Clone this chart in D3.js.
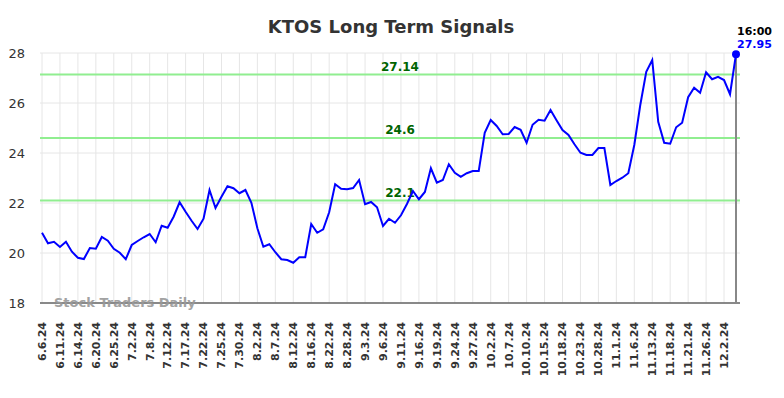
<!DOCTYPE html>
<html>
<head>
<meta charset="utf-8">
<script src="https://cdn.jsdelivr.net/npm/d3@7"></script>
<style>
  body { margin: 0; background: #fff; }
  svg { font-family: "DejaVu Sans", sans-serif; }
</style>
</head>
<body>
<div id="chart"></div>
<script>
// closing prices, one per trading day
var prices = [
  20.81, 20.39, 20.45, 20.24, 20.45, 20.05, 19.81, 19.76, 20.20, 20.17,
  20.64, 20.49, 20.17, 20.01, 19.75, 20.32, 20.48, 20.63, 20.76, 20.43,
  21.09, 21.01, 21.45, 22.03, 21.65, 21.29, 20.96, 21.37, 22.52, 21.80,
  22.25, 22.67, 22.59, 22.39, 22.52, 22.01, 20.99, 20.25, 20.35, 20.03,
  19.75, 19.72, 19.61, 19.83, 19.83, 21.16, 20.81, 20.95, 21.63, 22.75,
  22.57, 22.55, 22.60, 22.92, 21.95, 22.04, 21.83, 21.08, 21.37, 21.21,
  21.51, 21.96, 22.48, 22.15, 22.44, 23.39, 22.81, 22.92, 23.55, 23.21,
  23.05, 23.19, 23.28, 23.28, 24.81, 25.32, 25.08, 24.75, 24.76, 25.04,
  24.93, 24.41, 25.13, 25.33, 25.29, 25.72, 25.31, 24.92, 24.72, 24.35,
  24.01, 23.92, 23.92, 24.20, 24.20, 22.72, 22.88, 23.01, 23.19, 24.32,
  25.92, 27.25, 27.72, 25.25, 24.41, 24.37, 25.03, 25.21, 26.23, 26.61,
  26.41, 27.23, 26.95, 27.05, 26.92, 26.35, 27.95
];

// one label every third trading day
var tickLabels = [
  "6.6.24", "6.11.24", "6.14.24", "6.20.24", "6.25.24", "7.2.24", "7.8.24",
  "7.12.24", "7.17.24", "7.22.24", "7.25.24", "7.30.24", "8.2.24", "8.7.24",
  "8.12.24", "8.16.24", "8.22.24", "8.28.24", "9.3.24", "9.6.24", "9.11.24",
  "9.16.24", "9.19.24", "9.24.24", "9.27.24", "10.2.24", "10.7.24", "10.10.24",
  "10.15.24", "10.18.24", "10.23.24", "10.28.24", "11.1.24", "11.6.24",
  "11.13.24", "11.18.24", "11.21.24", "11.26.24", "12.2.24"
];
var tickStep = 3;

var signalLevels = [27.14, 24.6, 22.1];
var yTicks = [18, 20, 22, 24, 26, 28];
var lastTime = "16:00";

var width = 784, height = 398;
var plot = { left: 40, right: 740, top: 53, bottom: 303 };

var svg = d3.select("#chart").append("svg")
  .attr("width", width)
  .attr("height", height);

var x = d3.scaleLinear()
  .domain([0, prices.length - 1])
  .range([42, 736]);

var y = d3.scaleLinear()
  .domain([18, 28])
  .range([plot.bottom, plot.top]);

// grid
svg.append("g").selectAll("line")
  .data(yTicks)
  .join("line")
  .attr("x1", plot.left).attr("x2", plot.right)
  .attr("y1", d => y(d)).attr("y2", d => y(d))
  .attr("stroke", "#e6e6e6").attr("stroke-width", 1);

svg.append("g").selectAll("line")
  .data(tickLabels)
  .join("line")
  .attr("x1", (d, i) => x(i * tickStep)).attr("x2", (d, i) => x(i * tickStep))
  .attr("y1", plot.top).attr("y2", plot.bottom)
  .attr("stroke", "#e6e6e6").attr("stroke-width", 1);

// y labels
svg.append("g").selectAll("text")
  .data(yTicks)
  .join("text")
  .attr("x", 25)
  .attr("y", d => y(d))
  .attr("dy", "0.35em")
  .attr("text-anchor", "end")
  .attr("font-size", 13)
  .attr("fill", "#333")
  .text(d => d);

// x labels, rotated
svg.append("g").selectAll("text")
  .data(tickLabels)
  .join("text")
  .attr("transform", (d, i) => `translate(${x(i * tickStep)}, 322) rotate(-90)`)
  .attr("dy", "0.35em")
  .attr("text-anchor", "end")
  .attr("font-size", 11)
  .attr("font-weight", "bold")
  .attr("fill", "#333")
  .text(d => d);

// signal lines
svg.append("g").selectAll("line")
  .data(signalLevels)
  .join("line")
  .attr("x1", plot.left).attr("x2", plot.right)
  .attr("y1", d => y(d)).attr("y2", d => y(d))
  .attr("stroke", "#90ee90").attr("stroke-width", 2);

svg.append("g").selectAll("text")
  .data(signalLevels)
  .join("text")
  .attr("x", 400)
  .attr("y", d => y(d) - 4)
  .attr("text-anchor", "middle")
  .attr("font-size", 12)
  .attr("font-weight", "bold")
  .attr("fill", "#006400")
  .text(d => d);

// axis lines
svg.append("line")
  .attr("x1", plot.left).attr("x2", plot.right)
  .attr("y1", plot.bottom).attr("y2", plot.bottom)
  .attr("stroke", "#666").attr("stroke-width", 1.5);

svg.append("line")
  .attr("x1", x(prices.length - 1)).attr("x2", x(prices.length - 1))
  .attr("y1", plot.top).attr("y2", plot.bottom)
  .attr("stroke", "#888").attr("stroke-width", 2);

// watermark
svg.append("text")
  .attr("x", 54).attr("y", 307)
  .attr("font-size", 13)
  .attr("font-weight", "bold")
  .attr("fill", "#999")
  .attr("opacity", 0.9)
  .text("Stock Traders Daily");

// price line
var line = d3.line()
  .x((d, i) => x(i))
  .y(d => y(d));

svg.append("path")
  .datum(prices)
  .attr("d", line)
  .attr("fill", "none")
  .attr("stroke", "#0000ff")
  .attr("stroke-width", 2);

// last point
var last = prices.length - 1;
svg.append("circle")
  .attr("cx", x(last)).attr("cy", y(prices[last]))
  .attr("r", 4)
  .attr("fill", "#0000ff");

svg.append("text")
  .attr("x", x(last) + 1).attr("y", 35)
  .attr("font-size", 11).attr("font-weight", "bold")
  .attr("fill", "#000")
  .text(lastTime);

svg.append("text")
  .attr("x", x(last) + 1).attr("y", 48)
  .attr("font-size", 11).attr("font-weight", "bold")
  .attr("fill", "#0000ff")
  .text(prices[last]);

// title
svg.append("text")
  .attr("x", 391).attr("y", 33)
  .attr("text-anchor", "middle")
  .attr("font-size", 18)
  .attr("font-weight", "bold")
  .attr("fill", "#333")
  .text("KTOS Long Term Signals");
</script>
</body>
</html>
